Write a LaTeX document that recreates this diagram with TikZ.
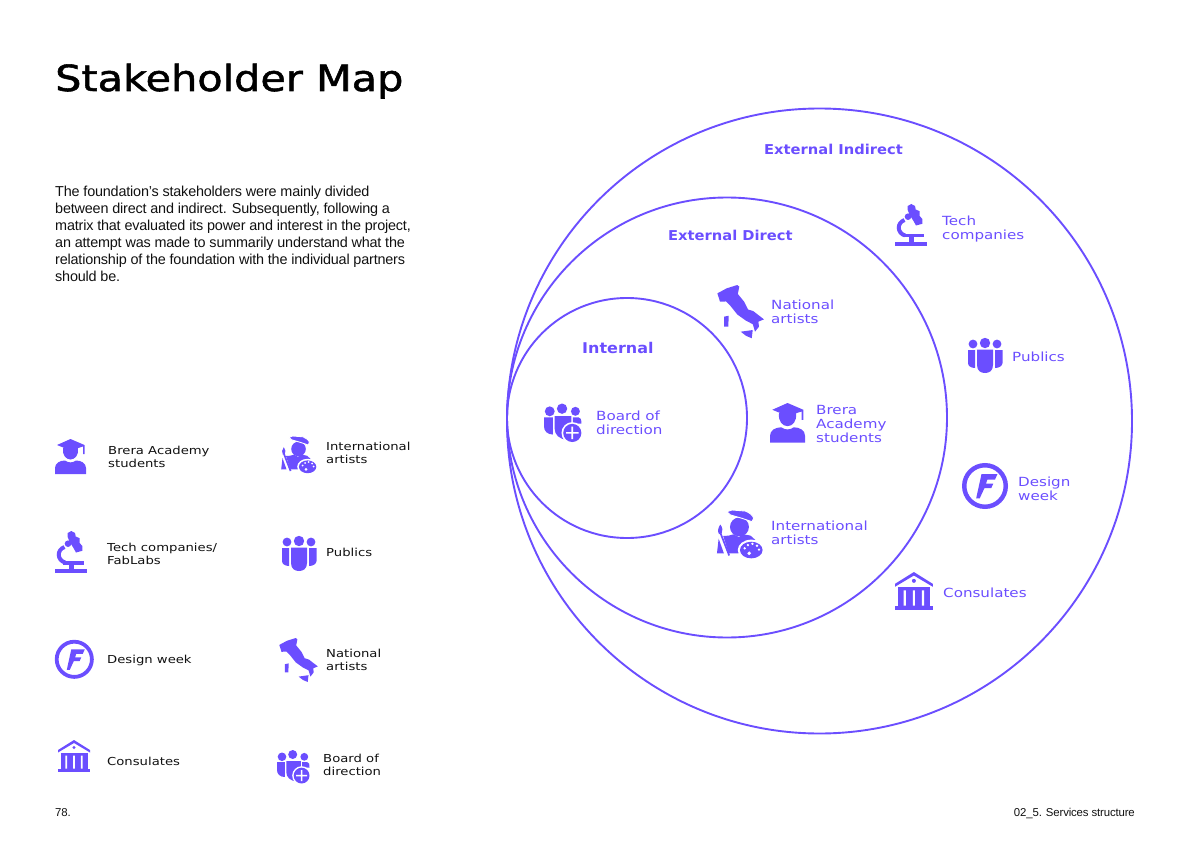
\documentclass[tikz,border=0pt]{standalone}
\usepackage{fontspec}
\setmainfont[LetterSpace=-1.3]{Liberation Sans}
\newfontfamily\techfont[FakeStretch=1.2]{DejaVu Sans}
\newfontfamily\titlefont[FakeStretch=1.15,FakeBold=1.5]{DejaVu Sans}
\newfontfamily\hdrfont[FakeStretch=1.08]{DejaVu Sans}
\definecolor{vio}{HTML}{6B4EFF}
\definecolor{ink}{HTML}{111111}
\tikzset{
  ring/.style={draw=vio,line width=1.9pt},
  ico/.style={fill=vio,draw=none},
  wht/.style={fill=white,draw=none},
  leg/.style={anchor=west,align=left,inner sep=0pt,text=ink,font=\techfont\fontsize{11}{13}\selectfont},
  lab/.style={anchor=west,align=left,inner sep=0pt,text=vio,font=\techfont\fontsize{12.6}{14}\selectfont},
  hdr/.style={anchor=west,inner sep=0pt,text=vio,font=\hdrfont\bfseries\fontsize{13.6}{15}\selectfont},
  pics/gradicon/.style={code={
    \fill[ico] (0,35) -- (0,29) .. controls (0,24) and (5,21.5) .. (10,21.5) .. controls (13,24) and (18,24) .. (21,21.5) .. controls (26,21.5) and (31,24) .. (31,29) -- (31,35) -- cycle;
    \fill[ico] (8,9) .. controls (7,16) and (11,20.5) .. (15.5,20.5) .. controls (20,20.5) and (24,16) .. (23,9) -- cycle;
    \fill[ico] (15.5,0) -- (29.5,6) -- (29.5,15) -- (28,15) -- (28,7.5) -- (15.5,11.5) -- (2,6) -- cycle;
  }},
  pics/microicon/.style={code={
    \fill[ico] (0.3,37.7) rectangle (32.3,42);
    \fill[ico] (8,30) rectangle (29,33.5);
    \fill[ico] (14,33) rectangle (18.5,38);
    \draw[vio,line width=4pt] (9.5,16) .. controls (1.5,19) and (2,29) .. (10,31.5);
    \fill[ico] (13,12.7) circle (3.3);
    \fill[ico] (12.7,2) -- (16.3,0) -- (20,2) -- (20.7,5.5) -- (24.7,7.2) -- (24.7,12) -- (27.3,15) -- (27.3,19.8) -- (21,21.5) -- (18.5,17) -- (14.7,11) -- (12.7,6) -- cycle;
  }},
  pics/artisticon/.style={code={
    \fill[ico] (16.5,13) circle (7.3);
    \fill[ico,draw=white,line width=0.9pt] (6.9,1.3) -- (10.8,0) -- (21,0.8) .. controls (24,2) and (27,4) .. (27.4,6.4) -- (26.2,9) -- (18.5,6.4) -- (9.5,3.8) -- cycle;
    \fill[ico] (8.2,19.7) -- (12,18.7) -- (16,20.8) -- (19.7,18.7) -- (25,19.7) -- (28.7,23) -- (22,27) -- (17.2,27) -- (15.9,33.3) -- (8.2,33.3) -- (4,20) -- cycle;
    \fill[ico] (0.5,22) -- (4.5,33.3) -- (-0.8,33.3) -- cycle;
    \draw[white,line width=2.2pt] (0.5,15) -- (8.5,37);
    \draw[vio,line width=1.7pt] (2,18) -- (8.6,35);
    \fill[ico] (1.8,11.2) .. controls (3.5,13.5) and (4,16) .. (2.8,18) -- (0.8,18.6) .. controls (-0.5,16.5) and (0,13.5) .. (1.8,11.2) -- cycle;
    \fill[wht] (25.6,30.8) ellipse (10.4 and 8);
    \fill[ico] (25.6,30.8) ellipse (8.7 and 6.4);
    \fill[wht] (20.5,29.5) circle (1) (23,27) circle (1) (26.5,26) circle (1) (30,27.5) circle (1) (31.5,30.5) circle (1);
    \fill[wht] (24,33.3) circle (1.5);
  }},
  pics/publicicon/.style={code={
    \fill[ico] (17,5) circle (5.2) (5,6) circle (4.4) (29,6) circle (4.4);
    \fill[ico] (9,11.5) -- (25,11.5) -- (25,27) .. controls (25,33) and (21,35) .. (17,35) .. controls (13,35) and (9,33) .. (9,27) -- cycle;
    \fill[ico] (0,12) -- (7,12) -- (7,30) .. controls (3,30) and (0,28) .. (0,25) -- cycle;
    \fill[ico] (27,12) -- (34.5,12) -- (34.5,25) .. controls (34.5,28) and (31,30) .. (27,30) -- cycle;
  }},
  pics/ficon/.style={code={
    \fill[ico,even odd rule] (0,0) circle (19.5) (0,0) circle (15.7);
    \fill[ico] (-3,-10) -- (10.5,-10) -- (8.5,-5.5) -- (2,-5.5) -- (0.8,-2) -- (7,-2) -- (5.3,1.8) -- (-0.5,1.8) -- (-4.5,10.5) -- (-7.5,10.5) -- cycle;
  }},
  pics/bankicon/.style={code={
    \fill[ico] (0,10) -- (16,0) -- (32,10) -- (32,12.5) -- (16,3) -- (0,12.5) -- cycle;
    \fill[ico] (16,7.5) circle (1.7);
    \fill[ico] (2.5,13) -- (29.5,13) -- (29.5,28.5) -- (2.5,28.5) -- cycle;
    \fill[wht] (7.4,15.5) rectangle (9.2,28.5) (15.1,15.5) rectangle (16.9,28.5) (22.8,15.5) rectangle (24.6,28.5);
    \fill[ico] (0,29) rectangle (32,32);
  }},
  pics/italyicon/.style={code={
    \fill[ico] (0.3,6.9) -- (8,2.75) -- (16.8,0) -- (18.4,1.4) -- (17.2,7.4) -- (22.4,13.8) -- (25.6,20.2) -- (30,21.6) -- (38.8,28.4) -- (34.2,30.3) -- (34.7,34.4) -- (31.4,38.6) -- (29.6,32.4) -- (23.8,29.4) -- (16.8,24.4) -- (11.3,17.5) -- (7.6,13.6) -- (2.5,13.8) -- cycle;
    \fill[ico] (5.8,26.2) -- (9.6,25.4) -- (9.4,34.4) -- (5.8,34.4) -- cycle;
    \fill[ico] (19.6,38.6) -- (29.5,37.2) -- (28.7,44) -- (24,42) -- cycle;
  }},
  pics/boardicon/.style={code={
    \fill[ico] (5,6.8) circle (4.3) (15.7,4.5) circle (4.5) (27.3,6.8) circle (3.9);
    \fill[ico] (0,12) -- (7.8,12) -- (7.8,27) .. controls (3,27) and (0,24) .. (0,20) -- cycle;
    \fill[ico] (9.3,11) -- (23.8,11) -- (23.8,26) -- (20,31.5) .. controls (13,31) and (9.3,27) .. (9.3,22) -- cycle;
    \fill[ico] (25.2,12) -- (30,12) .. controls (32,12) and (32.5,14) .. (32.5,17.5) -- (25.2,17.5) -- cycle;
    \fill[wht] (24.6,25.6) circle (9.4);
    \fill[ico] (24.6,25.6) circle (7.9);
    \fill[wht] (23.9,20.2) rectangle (25.3,31) (19.2,24.9) rectangle (30,26.3);
  }},
}
\begin{document}
\begin{tikzpicture}[x=1pt,y=-1pt]
\useasboundingbox (0,0) rectangle (1190,842);
% circles
\node[circle,ring,minimum size=625pt,inner sep=0pt] (outer) at (819.5,421) {};
\node[circle,ring,minimum size=440pt,inner sep=0pt] (middle) at (727,417.5) {};
\node[circle,ring,minimum size=240pt,inner sep=0pt] (inner) at (627,418) {};
% title and body
\node[anchor=base west,inner sep=0pt,text=black,font=\titlefont\fontsize{36}{40}\selectfont] (title) at (55,91) {Stakeholder Map};
\node[anchor=north west,align=left,inner sep=0pt,text=ink,font=\fontsize{14.4}{17}\selectfont] (body) at (55,186) {The foundation's stakeholders were mainly divided\\between direct and indirect. Subsequently, following a\\matrix that evaluated its power and interest in the project,\\an attempt was made to summarily understand what the\\relationship of the foundation with the individual partners\\should be.};
% legend
\pic (a1) at (55,439) {gradicon};
\node[leg] (l1) at (108,456.5) {Brera Academy\\students};
\pic (a2) at (55,531) {microicon};
\node[leg] (l2) at (107,553.5) {Tech companies/\\FabLabs};
\pic (a3) at (74.3,659.3) {ficon};
\node[leg] (l3) at (107,660) {Design week};
\pic (a4) at (58,740) {bankicon};
\node[leg] (l4) at (107,761) {Consulates};
\pic (b1) at (282,436) {artisticon};
\node[leg] (m1) at (326,452.5) {International\\artists};
\pic (b2) at (282,536) {publicicon};
\node[leg] (m2) at (326,552) {Publics};
\pic (b3) at (279,638) {italyicon};
\node[leg] (m3) at (326,659.5) {National\\artists};
\pic (b4) at (277,750) {boardicon};
\node[leg] (m4) at (323,764.5) {Board of\\direction};
% footer
\node[anchor=base west,inner sep=0pt,text=ink,font=\fontsize{11.4}{13}\selectfont] (pg) at (55,816) {78.};
\node[anchor=base east,inner sep=0pt,text=ink,font=\fontsize{11.4}{13}\selectfont] (sec) at (1135,816) {02\_5. Services structure};
% headers
\node[hdr] (h1) at (764,149) {External Indirect};
\node[hdr] (h2) at (668,235) {External Direct};
\node[hdr,font=\hdrfont\bfseries\fontsize{14.8}{17}\selectfont] (h3) at (582,348) {Internal};
% diagram icons and labels
\pic[scale=1.15] (c1) at (544,403.5) {boardicon};
\node[lab] (t1) at (596,423) {Board of\\direction};
\pic[scale=1.13] (c2) at (770,403) {gradicon};
\node[lab] (t2) at (816,423.7) {Brera\\Academy\\students};
\pic[scale=1.21] (c3) at (717,285) {italyicon};
\node[lab] (t3) at (771,311.7) {National\\artists};
\pic[scale=1.3] (c4) at (718,510) {artisticon};
\node[lab] (t4) at (771,532.5) {International\\artists};
\pic (c5) at (895,204) {microicon};
\node[lab] (t5) at (942,228.7) {Tech\\companies};
\pic (c6) at (968,338) {publicicon};
\node[lab] (t6) at (1012,356.7) {Publics};
\pic[scale=1.18] (c7) at (985,486) {ficon};
\node[lab] (t7) at (1018,488.7) {Design\\week};
\pic[scale=1.18] (c8) at (895,572) {bankicon};
\node[lab] (t8) at (943,592.5) {Consulates};
\end{tikzpicture}
\end{document}
